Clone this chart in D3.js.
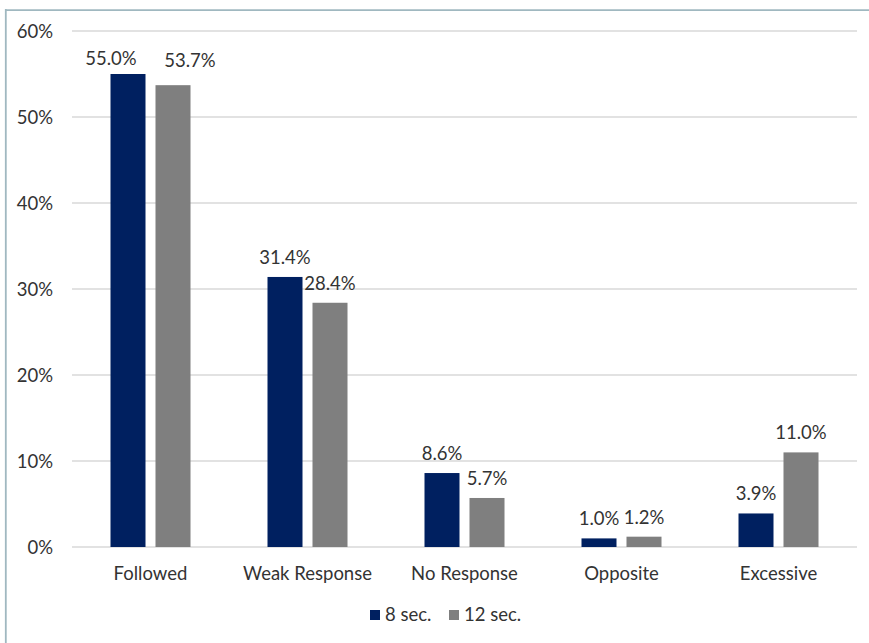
<!DOCTYPE html>
<html>
<head>
<meta charset="utf-8">
<script src="https://cdn.jsdelivr.net/npm/d3@7"></script>
<style>
  body { margin: 0; background: #fff; }
  text { font-family: Lato, "Open Sans", sans-serif; fill: #333333; }
</style>
</head>
<body>
<svg id="chart" width="869" height="643"></svg>
<script>
// data
var categories = ["Followed", "Weak Response", "No Response", "Opposite", "Excessive"];
var seriesNames = ["8 sec.", "12 sec."];
var values8 = [55.0, 31.4, 8.6, 1.0, 3.9];
var values12 = [53.7, 28.4, 5.7, 1.2, 11.0];
var yTicks = [0, 10, 20, 30, 40, 50, 60];
var colors = ["#002060", "#7f7f7f"];

var svg = d3.select("#chart");
var fs = 18.5;

// frame (left + top)
svg.append("line").attr("x1", 5.8).attr("x2", 5.8).attr("y1", 9).attr("y2", 643)
    .attr("stroke", "#a0b8c0").attr("stroke-width", 1.8);
svg.append("line").attr("x1", 5).attr("x2", 869).attr("y1", 10.2).attr("y2", 10.2)
    .attr("stroke", "#a0b8c0").attr("stroke-width", 1.8);

var plotLeft = 72, plotRight = 857, plotTop = 31, plotBottom = 547;

var x = d3.scaleBand().domain(categories).range([plotLeft, plotRight]);
var y = d3.scaleLinear().domain([0, 60]).range([plotBottom, plotTop]);

// gridlines
svg.append("g").selectAll("line").data(yTicks).join("line")
    .attr("x1", plotLeft).attr("x2", plotRight)
    .attr("y1", d => y(d)).attr("y2", d => y(d))
    .attr("stroke", "#d9d9d9").attr("stroke-width", 1.5);

// y tick labels
svg.append("g").selectAll("text").data(yTicks).join("text")
    .attr("x", 53).attr("y", d => y(d) + 7)
    .attr("text-anchor", "end").attr("font-size", fs)
    .text(d => d + "%");

var barW = 35, gap = 10;
var rows = categories.map((c, i) => ({cat: c, i: i, vals: [values8[i], values12[i]]}));

// first group's labels were dragged by hand in the original
var labelDx = function(i, s) { return i === 0 ? (s === 0 ? -17 : 17) : 0; };
var labelDy = function(i, s) { return i === 0 ? (s === 0 ? -9 : -18.5) : -13; };

var groups = svg.append("g").selectAll("g").data(rows).join("g");

groups.each(function(r) {
    var g = d3.select(this);
    var cx = x(r.cat) + x.bandwidth() / 2;
    r.vals.forEach(function(v, s) {
        var bx = s === 0 ? cx - gap / 2 - barW : cx + gap / 2;
        g.append("rect")
            .attr("x", bx).attr("width", barW)
            .attr("y", y(v)).attr("height", y(0) - y(v))
            .attr("fill", colors[s]);
        g.append("text")
            .attr("x", bx + barW / 2 + labelDx(r.i, s)).attr("y", y(v) + labelDy(r.i, s))
            .attr("text-anchor", "middle").attr("font-size", fs)
            .text(v.toFixed(1) + "%");
    });
    g.append("text")
        .attr("x", cx).attr("y", 580)
        .attr("text-anchor", "middle").attr("font-size", fs)
        .text(r.cat);
});

// legend
var legend = svg.append("g").attr("transform", "translate(370,610)");
var lx = [0, 79];
seriesNames.forEach(function(n, i) {
    legend.append("rect").attr("x", lx[i]).attr("y", 0).attr("width", 10).attr("height", 10).attr("fill", colors[i]);
    legend.append("text").attr("x", lx[i] + 15).attr("y", 11).attr("font-size", fs).text(n);
});
</script>
</body>
</html>
